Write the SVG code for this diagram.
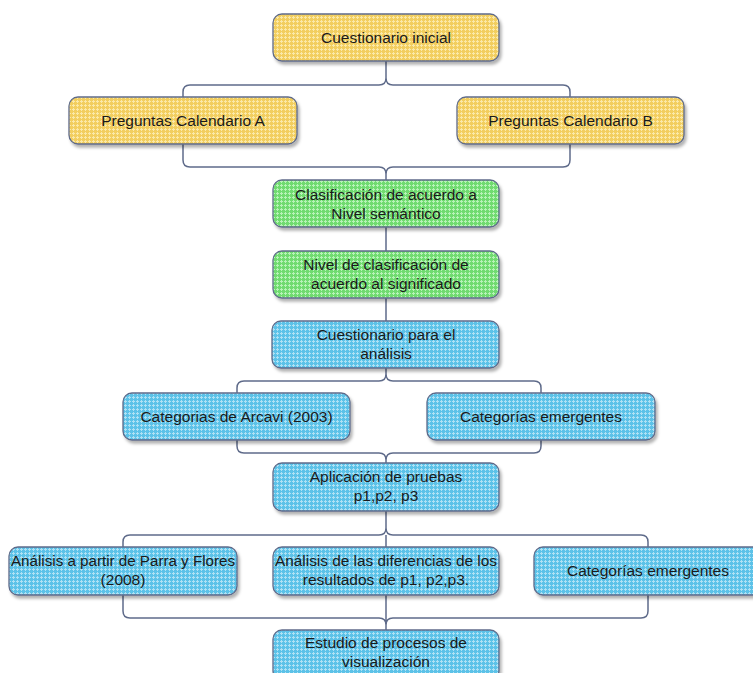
<svg xmlns="http://www.w3.org/2000/svg" width="753" height="673" viewBox="0 0 753 673">
<defs>
<pattern id="pY" width="4" height="4" patternUnits="userSpaceOnUse">
<rect width="4" height="4" fill="#F2CE5E"/>
<rect x="0" y="1" width="3" height="1" fill="#FBE9A8"/>
<rect x="1" y="0" width="1" height="3" fill="#FBE9A8"/>
</pattern>
<pattern id="pG" width="4" height="4" patternUnits="userSpaceOnUse">
<rect width="4" height="4" fill="#70DB70"/>
<rect x="0" y="1" width="3" height="1" fill="#B8F3B8"/>
<rect x="1" y="0" width="1" height="3" fill="#B8F3B8"/>
</pattern>
<pattern id="pB" width="4" height="4" patternUnits="userSpaceOnUse">
<rect width="4" height="4" fill="#5CC2E8"/>
<rect x="0" y="1" width="3" height="1" fill="#AEE1F4"/>
<rect x="1" y="0" width="1" height="3" fill="#AEE1F4"/>
</pattern>
<filter id="sh" x="-10%" y="-20%" width="125%" height="150%">
<feDropShadow dx="2" dy="3" stdDeviation="1.5" flood-color="#000" flood-opacity="0.3"/>
</filter>
</defs>
<style>
.box{stroke:#5f6b8a;stroke-width:1.3;filter:url(#sh)}
.y{fill:url(#pY)} .g{fill:url(#pG)} .b{fill:url(#pB)}
text{font-family:"Liberation Sans","DejaVu Sans",sans-serif;font-size:15.5px;fill:#1a1a1a;text-anchor:middle}
.c{fill:none;stroke:#5f6b8a;stroke-width:1.5}
</style>
<rect width="753" height="673" fill="#ffffff"/>
<g id="connectors" class="c">
<path d="M386,61 V78 Q386,85 379,85 H190 Q183,85 183,92 V97 M386,78 Q386,85 393,85 H563 Q570,85 570,92 V97"/>
<path d="M183,144 V160 Q183,167 190,167 H379 Q386,167 386,174 V180 M570,144 V160 Q570,167 563,167 H393 Q386,167 386,174"/>
<path d="M386,227 V251 M386,298 V321"/>
<path d="M386,368 V374 Q386,381 379,381 H244 Q237,381 237,388 V393 M386,374 Q386,381 393,381 H534 Q541,381 541,388 V393"/>
<path d="M237,440 V446 Q237,453 244,453 H379 Q386,453 386,460 V463 M541,440 V446 Q541,453 534,453 H393 Q386,453 386,460"/>
<path d="M386,511 V528 Q386,535 379,535 H130 Q123,535 123,542 V547 M386,528 Q386,535 393,535 H641 Q648,535 648,542 V547 M386,535 V547"/>
<path d="M123,595 V611 Q123,618 130,618 H379 Q386,618 386,625 V630 M648,595 V611 Q648,618 641,618 H393 Q386,618 386,625 M386,595 V625"/>
</g>
<g id="n1"><rect class="box y" x="273" y="14" width="226" height="47" rx="9"/><text x="386" y="43">Cuestionario inicial</text></g>
<g id="nA"><rect class="box y" x="69" y="97" width="228" height="47" rx="9"/><text x="183" y="126">Preguntas Calendario A</text></g>
<g id="nB"><rect class="box y" x="457" y="97" width="227" height="47" rx="9"/><text x="570.5" y="126">Preguntas Calendario B</text></g>
<g id="g1"><rect class="box g" x="273" y="180" width="226" height="47" rx="9"/><text x="386" y="200">Clasificación de acuerdo a</text><text x="386" y="219">Nivel semántico</text></g>
<g id="g2"><rect class="box g" x="273" y="251" width="226" height="47" rx="9"/><text x="386" y="270">Nivel de clasificación de</text><text x="386" y="289">acuerdo al significado</text></g>
<g id="b1"><rect class="box b" x="272" y="321" width="227" height="47" rx="9"/><text x="386" y="340">Cuestionario para el</text><text x="386" y="359">análisis</text></g>
<g id="b2"><rect class="box b" x="123" y="393" width="227" height="47" rx="9"/><text x="236.5" y="422">Categorias de Arcavi (2003)</text></g>
<g id="b3"><rect class="box b" x="427" y="393" width="228" height="47" rx="9"/><text x="541" y="422">Categorías emergentes</text></g>
<g id="b4"><rect class="box b" x="273" y="463" width="226" height="48" rx="9"/><text x="386" y="482">Aplicación de pruebas</text><text x="386" y="501">p1,p2, p3</text></g>
<g id="b5"><rect class="box b" x="9" y="547" width="228" height="48" rx="9"/><text x="123" y="566" textLength="224" lengthAdjust="spacingAndGlyphs">Análisis a partir de Parra y Flores</text><text x="123" y="585">(2008)</text></g>
<g id="b6"><rect class="box b" x="273" y="547" width="226" height="48" rx="9"/><text x="386" y="566" textLength="222" lengthAdjust="spacingAndGlyphs">Análisis de las diferencias de los</text><text x="386" y="585">resultados de p1, p2,p3.</text></g>
<g id="b7"><rect class="box b" x="534" y="547" width="230" height="48" rx="9"/><text x="648" y="576">Categorías emergentes</text></g>
<g id="b8"><rect class="box b" x="273" y="630" width="226" height="50" rx="9"/><text x="386" y="648">Estudio de procesos de</text><text x="386" y="667">visualización</text></g>
</svg>
